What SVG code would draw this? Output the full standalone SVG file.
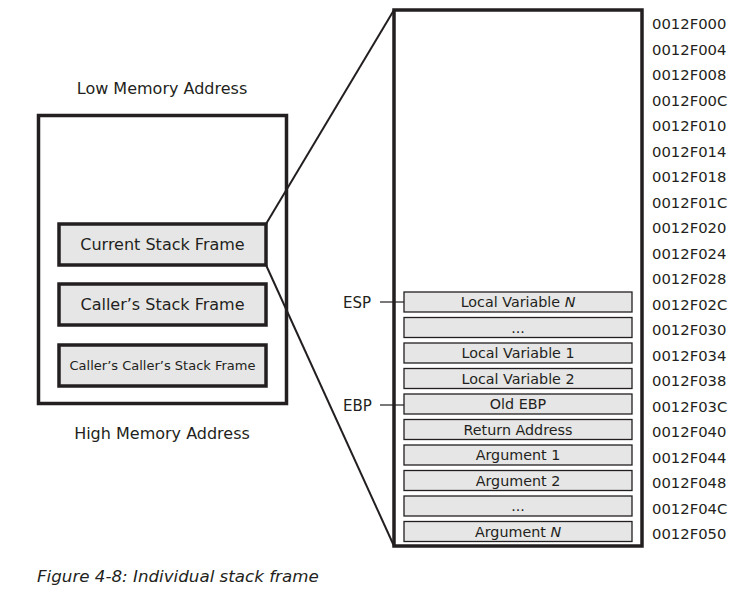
<svg xmlns="http://www.w3.org/2000/svg" width="756" height="593" viewBox="0 0 756 593">
<style>
text{font-family:"DejaVu Sans","Liberation Sans",sans-serif;fill:#231f20}
.frame{fill:#e6e6e6;stroke:#231f20;stroke-width:3.5}
.row{fill:#e6e6e6;stroke:#231f20;stroke-width:1.3}
.big{font-size:16px;text-anchor:middle}
.rt{font-size:14.3px;text-anchor:middle}
.addr{font-size:14.8px}
.con{stroke:#231f20;stroke-width:2;fill:none}
</style>
<rect width="756" height="593" fill="#fff"/>
<text class="big" x="162" y="94">Low Memory Address</text>
<text class="big" x="162" y="439">High Memory Address</text>
<g id="memory">
<rect x="38.5" y="115.5" width="248" height="288" fill="none" stroke="#231f20" stroke-width="3.5"/>
</g>
<g id="current"><rect class="frame" x="59" y="224" width="207" height="41"/><text class="big" x="162.5" y="250">Current Stack Frame</text></g>
<g id="caller"><rect class="frame" x="59" y="284" width="207" height="41"/><text class="big" x="162.5" y="310">Caller’s Stack Frame</text></g>
<g id="callercaller"><rect class="frame" x="59" y="345" width="207" height="41"/><text x="162.5" y="370" style="font-size:13px;text-anchor:middle">Caller’s Caller’s Stack Frame</text></g>
<g id="connectors">
<line class="con" x1="266" y1="224" x2="394" y2="10"/>
<line class="con" x1="266" y1="265" x2="394" y2="546"/>
<line x1="380" y1="302" x2="404" y2="302" stroke="#231f20" stroke-width="1.2"/>
<line x1="380" y1="405" x2="404" y2="405" stroke="#231f20" stroke-width="1.2"/>
</g>
<g id="stack">
<rect x="394" y="10" width="248" height="536" fill="none" stroke="#231f20" stroke-width="3.5"/>
</g>
<g id="rows">
<rect class="row" x="404" y="292" width="228" height="20"/><text class="rt" x="518" y="307">Local Variable <tspan font-style="italic">N</tspan></text>
<rect class="row" x="404" y="317.5" width="228" height="20"/><text class="rt" x="518" y="333">...</text>
<rect class="row" x="404" y="343" width="228" height="20"/><text class="rt" x="518" y="358">Local Variable 1</text>
<rect class="row" x="404" y="368.5" width="228" height="20"/><text class="rt" x="518" y="383.5">Local Variable 2</text>
<rect class="row" x="404" y="394" width="228" height="20"/><text class="rt" x="518" y="409">Old EBP</text>
<rect class="row" x="404" y="419.5" width="228" height="20"/><text class="rt" x="518" y="434.5">Return Address</text>
<rect class="row" x="404" y="445" width="228" height="20"/><text class="rt" x="518" y="460">Argument 1</text>
<rect class="row" x="404" y="470.5" width="228" height="20"/><text class="rt" x="518" y="485.5">Argument 2</text>
<rect class="row" x="404" y="496" width="228" height="20"/><text class="rt" x="518" y="511">...</text>
<rect class="row" x="404" y="521.5" width="228" height="20"/><text class="rt" x="518" y="536.5">Argument <tspan font-style="italic">N</tspan></text>
</g>
<text x="343" y="308" style="font-size:15px">ESP</text>
<text x="343" y="411" style="font-size:15px">EBP</text>
<g id="addresses" class="addr">
<text class="addr" x="652" y="29">0012F000</text>
<text class="addr" x="652" y="54.5">0012F004</text>
<text class="addr" x="652" y="80">0012F008</text>
<text class="addr" x="652" y="105.5">0012F00C</text>
<text class="addr" x="652" y="131">0012F010</text>
<text class="addr" x="652" y="156.5">0012F014</text>
<text class="addr" x="652" y="182">0012F018</text>
<text class="addr" x="652" y="207.5">0012F01C</text>
<text class="addr" x="652" y="233">0012F020</text>
<text class="addr" x="652" y="258.5">0012F024</text>
<text class="addr" x="652" y="284">0012F028</text>
<text class="addr" x="652" y="309.5">0012F02C</text>
<text class="addr" x="652" y="335">0012F030</text>
<text class="addr" x="652" y="360.5">0012F034</text>
<text class="addr" x="652" y="386">0012F038</text>
<text class="addr" x="652" y="411.5">0012F03C</text>
<text class="addr" x="652" y="437">0012F040</text>
<text class="addr" x="652" y="462.5">0012F044</text>
<text class="addr" x="652" y="488">0012F048</text>
<text class="addr" x="652" y="513.5">0012F04C</text>
<text class="addr" x="652" y="539">0012F050</text>
</g>
<text x="37" y="582" style="font-size:16.7px;font-style:italic">Figure 4-8: Individual stack frame</text>
</svg>
